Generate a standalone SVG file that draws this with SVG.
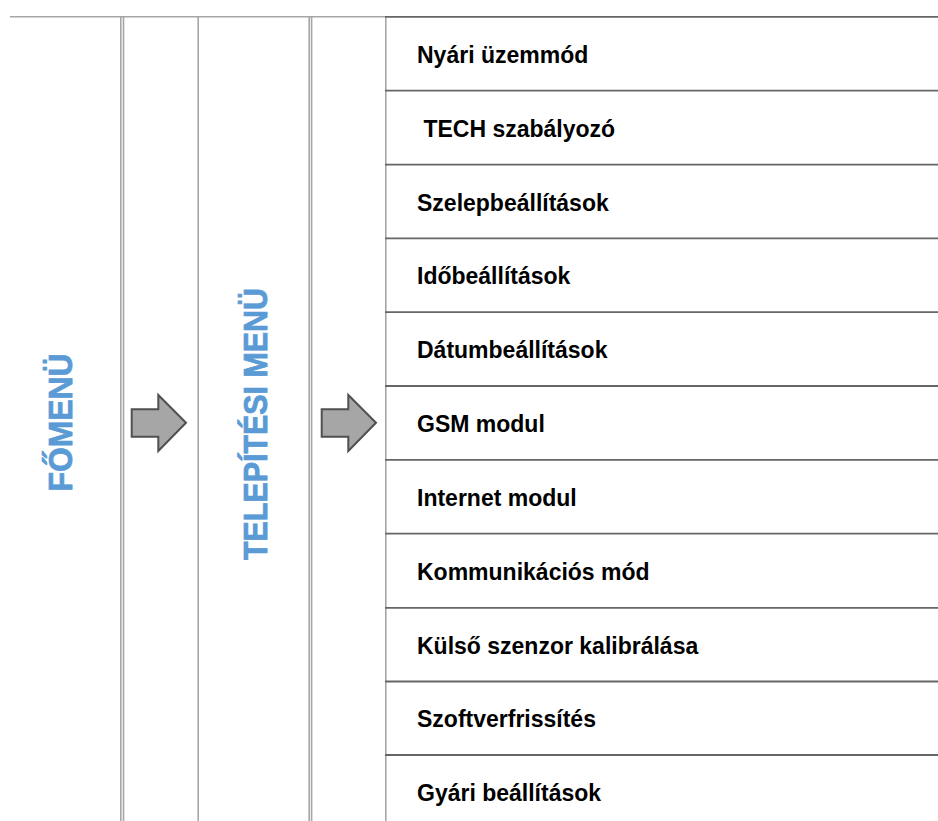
<svg xmlns="http://www.w3.org/2000/svg" width="938" height="821" viewBox="0 0 938 821">
<style>
.bg{fill:#ffffff}
.vl{stroke:#a6a6a6;stroke-width:1.6;fill:none}
.hl{stroke:#666666;stroke-width:1.8;fill:none}
.item{font-family:"Liberation Sans",Arial,sans-serif;font-weight:bold;font-size:23px;fill:#000000}
.title{font-family:"Liberation Sans",Arial,sans-serif;font-weight:bold;font-size:33px;fill:#5b9bd5;stroke:#5b9bd5;stroke-width:0.8;text-anchor:middle}
.arrow{fill:#a6a6a6;stroke:#505050;stroke-width:2;stroke-linejoin:miter}
</style>
<rect class="bg" x="0" y="0" width="938" height="821"/>
<g id="grid">
<line class="vl" x1="10" y1="16.8" x2="386" y2="16.8"/>
<line class="vl" x1="120.8" y1="16" x2="120.8" y2="821"/>
<line class="vl" x1="123.5" y1="16" x2="123.5" y2="821"/>
<line class="vl" x1="198.2" y1="16" x2="198.2" y2="821"/>
<line class="vl" x1="309.2" y1="16" x2="309.2" y2="821"/>
<line class="vl" x1="311.6" y1="16" x2="311.6" y2="821"/>
<line class="vl" x1="385.8" y1="16" x2="385.8" y2="821"/>
</g>
<g id="rows">
<line class="hl" x1="385" y1="16.8" x2="938" y2="16.8"/>
<line class="hl" x1="385" y1="90.7" x2="938" y2="90.7"/>
<line class="hl" x1="385" y1="164.6" x2="938" y2="164.6"/>
<line class="hl" x1="385" y1="238.3" x2="938" y2="238.3"/>
<line class="hl" x1="385" y1="312.1" x2="938" y2="312.1"/>
<line class="hl" x1="385" y1="386" x2="938" y2="386"/>
<line class="hl" x1="385" y1="459.8" x2="938" y2="459.8"/>
<line class="hl" x1="385" y1="533.6" x2="938" y2="533.6"/>
<line class="hl" x1="385" y1="607.9" x2="938" y2="607.9"/>
<line class="hl" x1="385" y1="681.5" x2="938" y2="681.5"/>
<line class="hl" x1="385" y1="755" x2="938" y2="755"/>
</g>
<g id="fomenu"><text class="title" transform="translate(72,422.5) rotate(-90)" x="0" y="0" textLength="138" lengthAdjust="spacingAndGlyphs">FŐMENÜ</text></g>
<g id="telepitesi-menu"><text class="title" transform="translate(267,424) rotate(-90)" x="0" y="0" textLength="272" lengthAdjust="spacingAndGlyphs">TELEPÍTÉSI MENÜ</text></g>
<g id="connectors">
<polygon class="arrow" points="131.7,409.3 158.3,409.3 158.3,395 186,422.8 158.3,451 158.3,436.7 131.7,436.7"/>
<polygon class="arrow" points="321.7,409.3 348.3,409.3 348.3,395 376,422.8 348.3,451 348.3,436.7 321.7,436.7"/>
</g>
<g id="item-1"><text class="item" x="417" y="63">Nyári üzemmód</text></g>
<g id="item-2"><text class="item" x="417" y="136.7" xml:space="preserve"> TECH szabályozó</text></g>
<g id="item-3"><text class="item" x="417" y="210.7">Szelepbeállítások</text></g>
<g id="item-4"><text class="item" x="417" y="284.4">Időbeállítások</text></g>
<g id="item-5"><text class="item" x="417" y="358.2">Dátumbeállítások</text></g>
<g id="item-6"><text class="item" x="417" y="432">GSM modul</text></g>
<g id="item-7"><text class="item" x="417" y="505.8">Internet modul</text></g>
<g id="item-8"><text class="item" x="417" y="579.8">Kommunikációs mód</text></g>
<g id="item-9"><text class="item" x="417" y="653.8">Külső szenzor kalibrálása</text></g>
<g id="item-10"><text class="item" x="417" y="727.4">Szoftverfrissítés</text></g>
<g id="item-11"><text class="item" x="417" y="801">Gyári beállítások</text></g>
</svg>
